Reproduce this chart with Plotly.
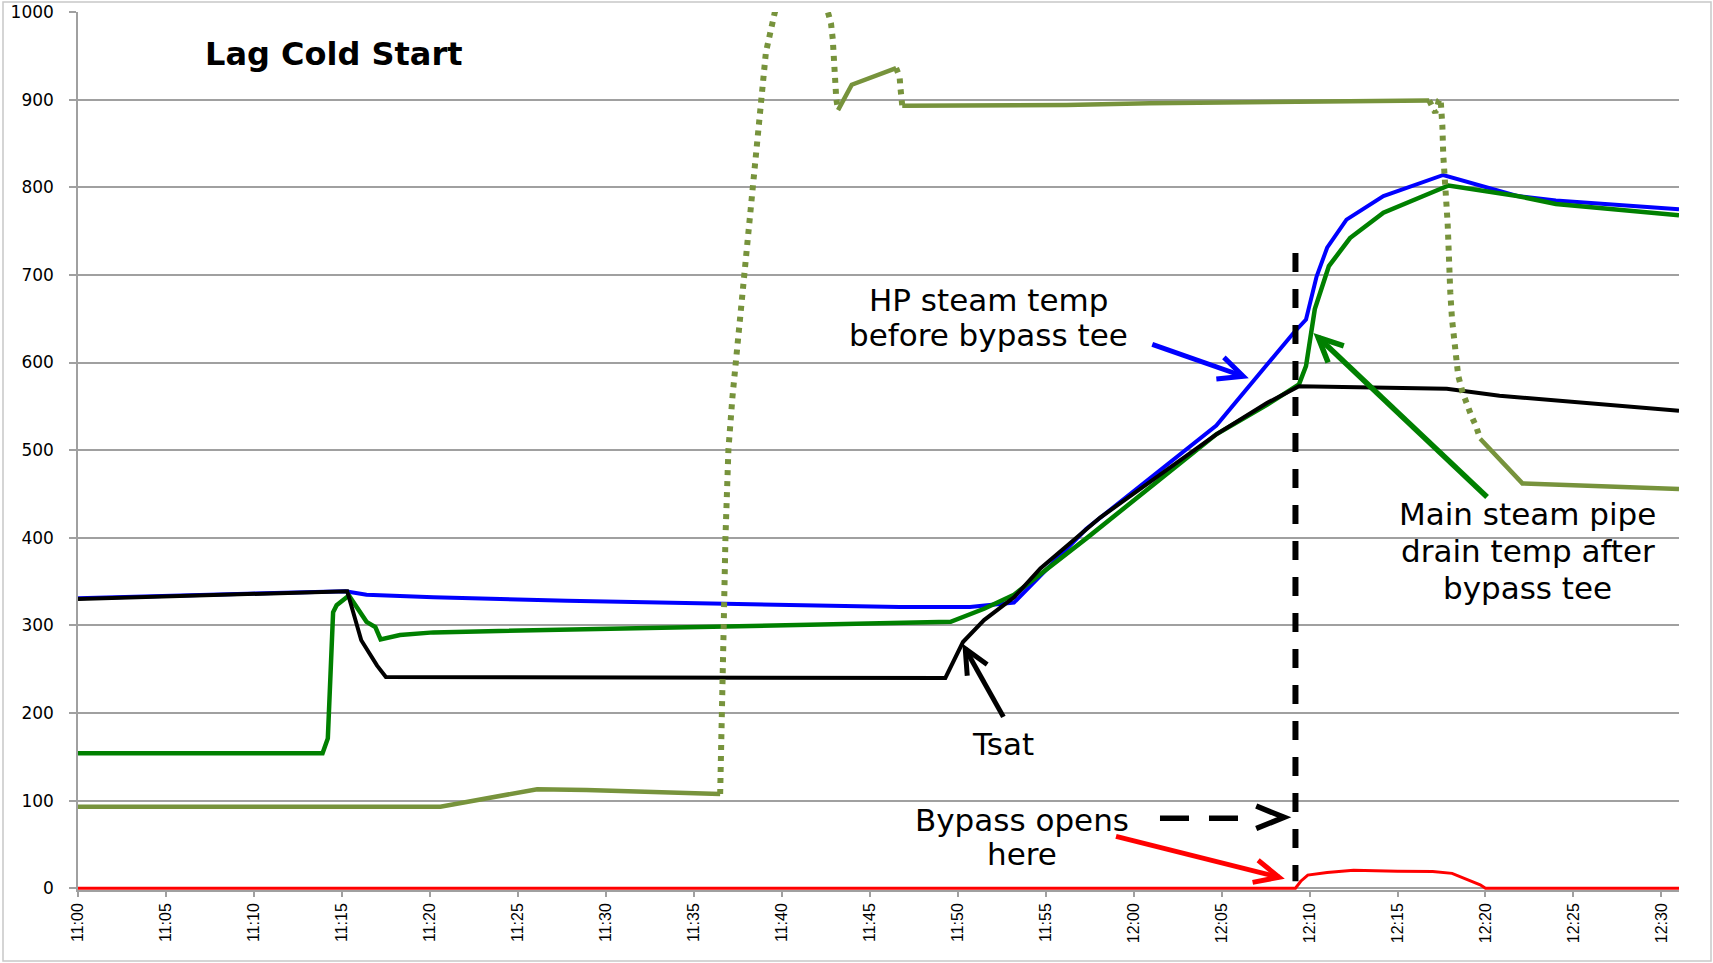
import math
import plotly.graph_objects as go

# ---------------- data (minutes after 11:00, temperature) ----------------
x_tick_minutes = list(range(0, 91, 5))
x_tick_labels = ["11:00", "11:05", "11:10", "11:15", "11:20", "11:25", "11:30",
                 "11:35", "11:40", "11:45", "11:50", "11:55", "12:00", "12:05",
                 "12:10", "12:15", "12:20", "12:25", "12:30"]
y_ticks = list(range(0, 1001, 100))

# HP steam temp before bypass tee (blue)
hp_t = [0, 15.2, 16.4, 20.2, 27.8, 35.4, 41.1, 46.7, 50.7, 53.2, 57.3, 61.1,
        64.7, 69.1, 69.8, 70.4, 71.0, 72.1, 74.2, 77.6, 81.8, 84.0, 91.0]
hp_v = [331, 339, 335, 332, 328, 325, 323, 321, 321, 326, 410, 471,
        528, 634, 649, 698, 731, 763, 790, 814, 790, 785, 775]

# Main steam pipe drain temp after bypass tee (green)
drain_t = [0, 13.9, 14.2, 14.5, 14.7, 15.4, 16.4, 16.9, 17.2, 18.3, 20.2, 30.0,
           41.0, 46.7, 49.6, 51.5, 53.2, 57.3, 61.1, 64.7, 67.6, 69.4, 69.8,
           70.3, 71.1, 72.3, 74.2, 77.9, 81.8, 84.0, 91.0]
drain_v = [154, 154, 171, 315, 323, 334, 304, 298, 284, 289, 292, 296,
           301, 304, 304, 319, 335, 399, 460, 518, 552, 575, 596,
           661, 710, 742, 771, 802, 790, 781, 768]

# Tsat (black)
tsat_t = [0, 15.3, 16.1, 16.5, 17.0, 17.5, 49.3, 50.3, 51.5, 53.2, 54.7, 58.1,
          61.9, 64.7, 67.6, 69.4, 77.8, 80.8, 91.0]
tsat_v = [330, 339, 283, 270, 254, 241, 240, 281, 306, 332, 365, 423,
          478, 518, 554, 573, 570, 562, 545]

# Olive series (solid / dotted portions)
olive_t = [0, 20.6, 26.1, 28.9, 36.5,
           36.6, 36.7, 36.8, 36.97, 37.2, 37.4, 37.7, 38.0, 38.3, 38.6, 38.9,
           39.1, 39.6, 40.3, 41.1, 41.9, 42.65, 42.8, 42.9, 42.95, 43.0, 43.07,
           43.1, 43.2,
           43.98, 46.5,
           46.7, 46.75, 46.8, 46.85,
           50.9, 56.2, 60.9, 63.8, 70.0, 76.8,
           77.0, 77.15, 77.35, 77.45, 77.55, 77.6, 77.85, 77.9, 78.0, 78.1,
           78.3, 78.45, 78.7, 78.9, 79.2, 79.45, 79.7,
           82.1, 91.0]
olive_v = [93, 93, 113, 112, 107.5,
           179, 298, 400, 501, 561, 602, 656, 716, 775, 841, 900,
           954, 999, 1045, 1065, 1045, 998, 987, 969, 949, 930, 914,
           901, 888,
           917, 936,
           926, 913, 900, 893,
           893.6, 894, 896, 896.6, 898, 899,
           890, 885, 899, 901, 870, 837, 759, 717, 680, 649,
           606, 585, 566, 554, 539, 528, 513,
           462, 455.5]

# Bypass (red)
bypass_t = [0, 69.2, 69.5, 69.9, 71.0, 72.5, 75.0, 77.0, 78.1, 78.6, 79.0, 79.7, 80.0, 91.0]
bypass_v = [0, 0, 8, 15, 18, 20.5, 19.5, 19, 17, 13, 9.5, 4, 0, 0]

# ---------------- layout constants ----------------
W, H = 1713, 963
ML, MR, MT, MB = 78, 34, 12, 73
X_RANGE = [0, 91]
Y_RANGE = [-2, 1000]
SX = (W - ML - MR) / (X_RANGE[1] - X_RANGE[0])
SY = (H - MT - MB) / (Y_RANGE[1] - Y_RANGE[0])

BLUE, GREEN, BLACK, OLIVE, RED = "#0000FF", "#008000", "#000000", "#77933C", "#FF0000"
GRID = "#A0A0A0"

SOLID_SEGS = [(0, 4), (28, 30), (34, 40), (57, 59)]
DOTTED_SEGS = [(4, 28), (30, 34), (40, 57)]


def segments(ts, vs, segs):
    xs, ys = [], []
    for a, b in segs:
        xs += ts[a:b + 1] + [None]
        ys += vs[a:b + 1] + [None]
    return xs, ys


fig = go.Figure()
fig.add_trace(go.Scatter(x=hp_t, y=hp_v, mode="lines", line=dict(color=BLUE, width=4),
                         name="HP steam temp before bypass tee"))
fig.add_trace(go.Scatter(x=drain_t, y=drain_v, mode="lines", line=dict(color=GREEN, width=4.5),
                         name="Main steam pipe drain temp after bypass tee"))
fig.add_trace(go.Scatter(x=tsat_t, y=tsat_v, mode="lines", line=dict(color=BLACK, width=4),
                         name="Tsat"))
sx_, sy_ = segments(olive_t, olive_v, SOLID_SEGS)
fig.add_trace(go.Scatter(x=sx_, y=sy_, mode="lines", line=dict(color=OLIVE, width=4.5),
                         name="Pipe temp"))
dx_, dy_ = segments(olive_t, olive_v, DOTTED_SEGS)
fig.add_trace(go.Scatter(x=dx_, y=dy_, mode="lines",
                         line=dict(color=OLIVE, width=6, dash="5px,6px"),
                         name="Pipe temp (dotted)"))
fig.add_trace(go.Scatter(x=bypass_t, y=bypass_v, mode="lines", line=dict(color=RED, width=3),
                         name="Bypass"))


def chevron(tail, tip, head_len=27, half_angle=25):
    dx = (tip[0] - tail[0]) * SX
    dy = (tip[1] - tail[1]) * SY
    L = math.hypot(dx, dy)
    ux, uy = dx / L, dy / L
    pts = []
    for s in (1, -1):
        a = math.radians(180 + s * half_angle)
        wx = ux * math.cos(a) - uy * math.sin(a)
        wy = ux * math.sin(a) + uy * math.cos(a)
        pts.append((tip[0] + wx * head_len / SX, tip[1] + wy * head_len / SY))
    return (f"M{pts[0][0]:.4f},{pts[0][1]:.4f} L{tip[0]:.4f},{tip[1]:.4f} "
            f"L{pts[1][0]:.4f},{pts[1][1]:.4f}")


def arrow_shapes(tail, tip, color, width=5, head_len=27, half_angle=25):
    return [
        dict(type="line", xref="x", yref="y", x0=tail[0], y0=tail[1], x1=tip[0], y1=tip[1],
             line=dict(color=color, width=width), layer="above"),
        dict(type="path", xref="x", yref="y", path=chevron(tail, tip, head_len, half_angle),
             line=dict(color=color, width=width), layer="above"),
    ]


shapes = []
# vertical dashed "bypass opens" marker
shapes.append(dict(type="line", xref="x", yref="y", x0=69.2, x1=69.2, y0=725, y1=8,
                   line=dict(color=BLACK, width=6, dash="19px,17px"), layer="above"))
shapes += arrow_shapes((61.06, 620.7), (66.23, 584.3), BLUE)
shapes += arrow_shapes((80.09, 446.5), (70.49, 628.7), GREEN, width=5.5)
shapes += arrow_shapes((52.6, 195.6), (50.43, 273.3), BLACK)
shapes += arrow_shapes((59.0, 59.2), (68.27, 12.5), RED)
# dashed arrow toward the vertical line
shapes.append(dict(type="line", xref="x", yref="y", x0=61.5, x1=66.0, y0=80, y1=80,
                   line=dict(color=BLACK, width=5.5, dash="29px,20px"), layer="above"))
shapes.append(dict(type="path", xref="x", yref="y",
                   path=chevron((61.5, 81), (68.55, 81), head_len=30, half_angle=22),
                   line=dict(color=BLACK, width=5.5), layer="above"))
# outer chart border
shapes.append(dict(type="rect", xref="paper", yref="paper",
                   x0=(3 - ML) / (W - ML - MR), x1=(1711 - ML) / (W - ML - MR),
                   y0=(H - MB - 961) / (H - MT - MB), y1=(H - MB - 2) / (H - MT - MB),
                   line=dict(color="#C8C8C8", width=1.5), layer="below"))

ann_font = dict(family="DejaVu Sans", size=31, color="black")


def text_lines(x, ys, lines):
    return [dict(x=x, y=y, text=t, showarrow=False, font=ann_font,
                 xanchor="center", yanchor="middle") for y, t in zip(ys, lines)]


annotations = [
    dict(x=14.54, y=952, text="<b>Lag Cold Start</b>", showarrow=False,
         font=dict(family="DejaVu Sans", size=32, color="black"), xanchor="center", yanchor="middle"),
    dict(x=52.6, y=165, text="Tsat", showarrow=False, font=ann_font,
         xanchor="center", yanchor="middle"),
]
annotations += text_lines(51.76, [671.4, 631.4], ["HP steam temp", "before bypass tee"])
annotations += text_lines(82.4, [426.9, 384.7, 342.5],
                          ["Main steam pipe", "drain temp after", "bypass tee"])
annotations += text_lines(53.66, [78.4, 39.6], ["Bypass opens", "here"])

fig.update_layout(
    width=W, height=H,
    margin=dict(l=ML, r=MR, t=MT, b=MB, autoexpand=False),
    plot_bgcolor="white", paper_bgcolor="white",
    showlegend=False,
    shapes=shapes,
    annotations=annotations,
)
fig.update_xaxes(range=X_RANGE, tickmode="array", tickvals=x_tick_minutes, ticktext=x_tick_labels,
                 tickangle=-90, ticks="outside", ticklen=5, tickcolor=GRID, tickwidth=1.5,
                 showline=True, linecolor=GRID, linewidth=1.5, showgrid=False, zeroline=False,
                 automargin=False,
                 tickfont=dict(family="Liberation Sans", size=16, color="black"))
fig.update_yaxes(range=Y_RANGE, tickmode="array", tickvals=y_ticks, ticks="outside", ticklen=7,
                 tickcolor=GRID, tickwidth=1.5, showline=True, linecolor=GRID, linewidth=1.5,
                 showgrid=True, gridcolor=GRID, gridwidth=1.5, zeroline=False,
                 automargin=False,
                 tickfont=dict(family="DejaVu Sans", size=17, color="black"),
                 ticklabelstandoff=12)

fig.write_html("out.html", config={"displayModeBar": False},
               post_script="document.body.style.margin='0';document.body.style.overflow='hidden';")
